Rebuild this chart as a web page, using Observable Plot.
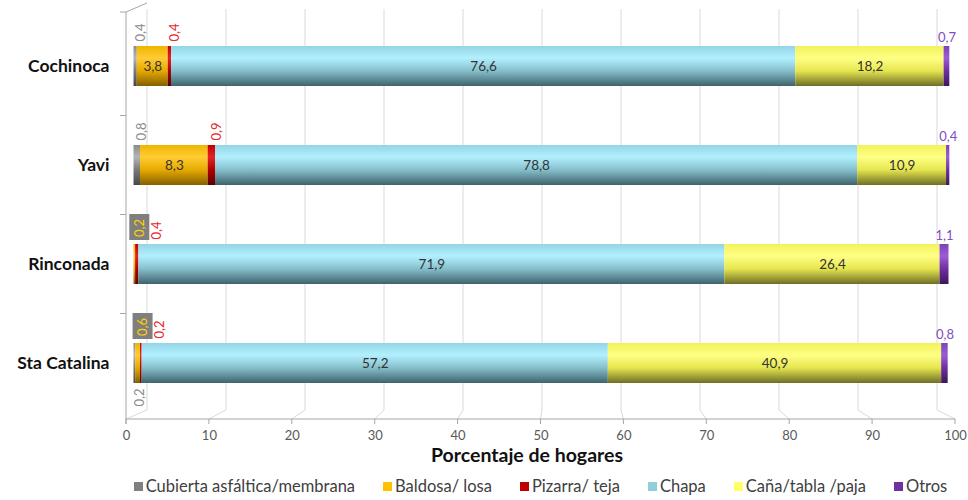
<!DOCTYPE html>
<html>
<head>
<meta charset="utf-8">
<script src="https://cdn.jsdelivr.net/npm/d3@7"></script>
<script src="https://cdn.jsdelivr.net/npm/@observablehq/plot@0.6"></script>
<style>
  body { margin: 0; background: #fff; font-family: Lato, "Open Sans", sans-serif; }
  #chart { width: 968px; }
  .legend { display: flex; justify-content: center; gap: 28px; padding-left: 126px; padding-right: 13px;
            height: 28px; align-items: center; font-size: 16.5px; color: #404040; }
  .legend .item { display: flex; align-items: center; white-space: pre; }
  .legend .sw { display: inline-block; width: 9px; height: 9px; margin-right: 3px; }
</style>
</head>
<body>
<div id="chart"></div>
<script>
// ---- data ----
const categories = ["Cochinoca", "Yavi", "Rinconada", "Sta Catalina"];
const series = ["Cubierta asfáltica/membrana", "Baldosa/ losa", "Pizarra/ teja", "Chapa", "Caña/tabla /paja", "Otros"];
const cubierta = [0.4, 0.8, 0.0, 0.2];
const baldosa  = [3.8, 8.3, 0.2, 0.6];
const pizarra  = [0.4, 0.9, 0.4, 0.2];
const chapa    = [76.6, 78.8, 71.9, 57.2];
const cana     = [18.2, 10.9, 26.4, 40.9];
const otros    = [0.7, 0.4, 1.1, 0.8];
const xTicks   = [0, 10, 20, 30, 40, 50, 60, 70, 80, 90, 100];
const xTitle   = "Porcentaje de hogares";

// ---- style ----
const colors = ["#808080", "#ffc000", "#c00000", "#92cddc", "#ffff66", "#7030a0"];
const gradStops = [
  ["#8a8a8a", "#b4b4b4", "#7a7a7a", "#474747"],
  ["#f0b400", "#ffcc33", "#e6aa00", "#855f00"],
  ["#c00000", "#e42424", "#b00000", "#5c0000"],
  ["#94d4e4", "#b2f0ff", "#86bfcc", "#3e636c"],
  ["#f2f25a", "#ffff85", "#e6e650", "#6e6e26"],
  ["#8040b8", "#9c5cd4", "#7030a0", "#3c165e"]
];
const W = 968, H = 472, ML = 126, MR = 13, MT = 12, MB = 53;
const k = (W - ML - MR) / 100;                       // px per unit on the front axis
// perspective: bars sit at mid depth, gridlines on the back wall
const barPx = [133.5, 948.5], backPx = [147, 937];
const bar  = v => (barPx[0] - ML + v * (barPx[1] - barPx[0]) / 100) / k;
const back = v => (backPx[0] - ML + v * (backPx[1] - backPx[0]) / 100) / k;
const fmt = v => v.toFixed(1).replace(".", ",");

const seriesValues = [cubierta, baldosa, pizarra, chapa, cana, otros];
const segs = [];
categories.forEach((cat, i) => {
  let cum = 0;
  seriesValues.forEach((vals, s) => {
    const v = vals[i];
    if (v > 0) segs.push({cat, s, v, x1: cum, x2: cum + v, mid: cum + v / 2});
    cum += v;
  });
});

const inside = segs.filter(d => d.v >= 3);
const otrosLab = segs.filter(d => d.s === 5);
const above = [], below = [], boxed = [];
categories.forEach(cat => {
  const small = segs.filter(d => d.cat === cat && d.s < 3 && d.v < 3);
  let prev = -Infinity, gap = 14;
  small.forEach((d, j) => {
    let lx = bar(d.mid) + 5 / k;
    if (small.length >= 3 && j === 0) { below.push({...d, lx}); return; }
    lx = Math.max(lx, prev + gap / k);
    prev = lx;
    if (d.s === 1) { boxed.push({...d, lx}); gap = 17; } else { above.push({...d, lx}); gap = 14; }
  });
});
const labColor = ["#8c8c8c", "#ffd000", "#e8262b"];

function defs() {
  const d = d3.create("svg:defs");
  gradStops.forEach((st, i) => {
    const g = d.append("linearGradient").attr("id", "cyl" + i)
      .attr("x1", 0).attr("y1", 0).attr("x2", 0).attr("y2", 1);
    [0, 0.3, 0.62, 1].forEach((o, j) => g.append("stop").attr("offset", o).attr("stop-color", st[j]));
  });
  return d.node();
}

function deco(index, scales, values, dims) {
  const x = scales.x, y = scales.y;
  const bw = typeof y.bandwidth === "function" ? y.bandwidth() : (y.bandwidth || 0);
  const g = d3.create("svg:g").attr("fill", "none");
  const yF = dims.height - dims.marginBottom;
  const yBB = yF - 9, yBT = dims.marginTop - 9;
  for (const v of xTicks) {
    const xf = x(v), xb = x(back(v));
    g.append("path").attr("d", `M${xf},${yF}L${xb},${yBB}L${xb},${yBT + 6}`)
      .attr("stroke", "#dadada").attr("stroke-width", 1);
    g.append("line").attr("x1", xf).attr("x2", xf).attr("y1", yF).attr("y2", yF + 5)
      .attr("stroke", "#a6a6a6");
  }
  // floor edge / axis line
  g.append("line").attr("x1", x(0)).attr("x2", x(100)).attr("y1", yF).attr("y2", yF).attr("stroke", "#a6a6a6");
  // left wall
  g.append("path").attr("d", `M${x(0)},${yF + 5}L${x(0)},${dims.marginTop}L${x(back(0))},${yBT}`)
    .attr("stroke", "#a6a6a6");
  const centers = categories.map(c => y(c) + bw / 2);
  for (let i = 0; i < centers.length - 1; i++) {
    const yy = (centers[i] + centers[i + 1]) / 2;
    g.append("line").attr("x1", x(0) - 6).attr("x2", x(0)).attr("y1", yy).attr("y2", yy).attr("stroke", "#a6a6a6");
  }
  g.append("line").attr("x1", x(0) - 6).attr("x2", x(0)).attr("y1", dims.marginTop).attr("y2", dims.marginTop).attr("stroke", "#a6a6a6");
  return g.node();
}

const barMarks = series.map((name, s) =>
  Plot.barX(segs.filter(d => d.s === s), {
    x1: d => bar(d.x1), x2: d => bar(d.x2), y: "cat",
    fill: `url(#cyl${s})`
  })
);

const chart = Plot.plot({
  width: W, height: H,
  marginLeft: ML, marginRight: MR, marginTop: MT, marginBottom: MB,
  style: {fontFamily: "Lato, 'Open Sans', sans-serif", background: "#fff", overflow: "visible"},
  x: {domain: [0, 100], axis: null},
  y: {domain: categories, range: [45, 384], paddingInner: 0.6, paddingOuter: 0, axis: null},
  marks: [
    defs,
    deco,
    ...barMarks,
    Plot.text(inside, {x: d => bar(d.mid), y: "cat", text: d => fmt(d.v), fill: "#333", fontSize: 13.5}),
    Plot.barX(boxed, {x1: d => d.lx - 10 / k, x2: d => d.lx + 10 / k, y: "cat", dy: -33,
                      insetTop: 3, insetBottom: 11, fill: "#7f7f7f"}),
    Plot.text(boxed, {x: "lx", y: "cat", text: d => fmt(d.v), dy: -36.5, rotate: -90,
                      fill: d => labColor[d.s], fontSize: 13}),
    Plot.text(above, {x: "lx", y: "cat", text: d => fmt(d.v), dy: -25, rotate: -90, textAnchor: "start",
                      fill: d => labColor[d.s], fontSize: 13}),
    Plot.text(below, {x: "lx", y: "cat", text: d => fmt(d.v), dy: 25, rotate: -90, textAnchor: "end",
                      fill: d => labColor[d.s], fontSize: 13}),
    Plot.text(otrosLab, {x: d => bar(d.mid), y: "cat", text: d => fmt(d.v), dy: -29,
                         fill: "#7f4cc4", fontSize: 13}),
    Plot.axisX(xTicks, {anchor: "bottom", tickSize: 0, tickPadding: 11, fontSize: 13, fill: "#595959", label: null}),
    Plot.axisY({tickSize: 0, tickPadding: 17, fontSize: 17.5, fontWeight: "bold", fill: "#111", label: null}),
    Plot.text([xTitle], {text: d => d, frameAnchor: "bottom", dy: 42, dx: -14, fontSize: 19.5,
                         fontWeight: "bold", fill: "#111"})
  ]
});
document.getElementById("chart").appendChild(chart);

const legend = d3.select("#chart").append("div").attr("class", "legend");
series.forEach((name, s) => {
  const it = legend.append("div").attr("class", "item");
  it.append("span").attr("class", "sw").style("background", colors[s]);
  it.append("span").text(name);
});
</script>
</body>
</html>
